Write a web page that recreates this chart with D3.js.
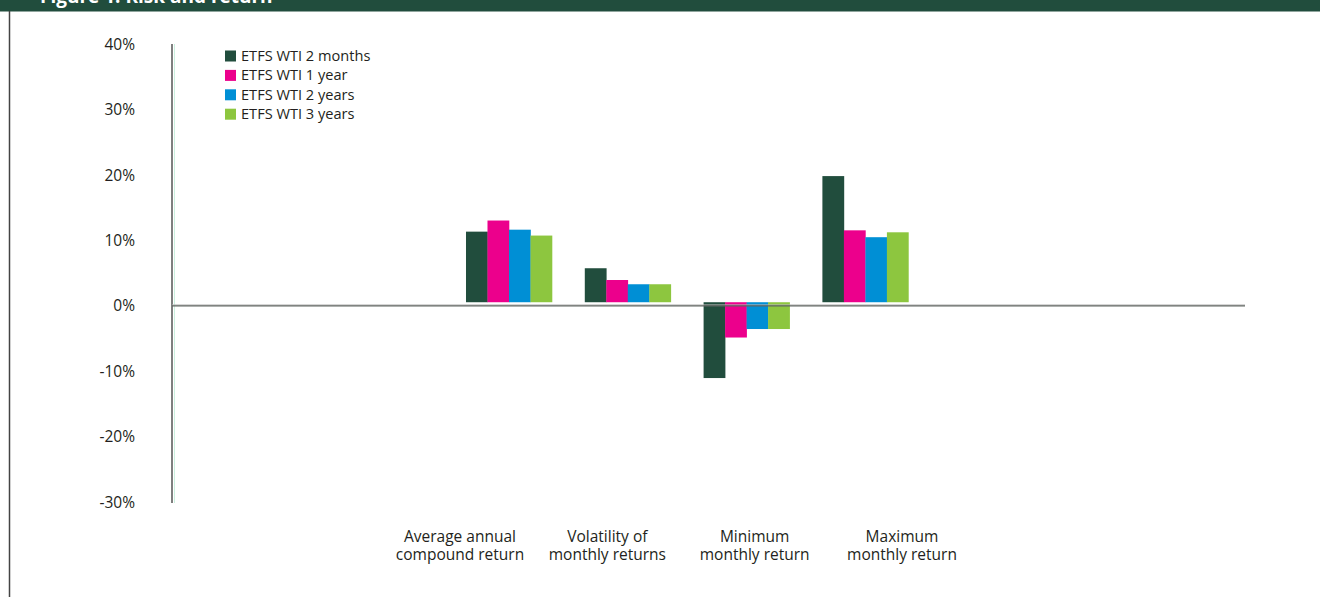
<!DOCTYPE html>
<html>
<head>
<meta charset="utf-8">
<script src="https://cdn.jsdelivr.net/npm/d3@7"></script>
<style>
  body { margin: 0; background: #fff; }
  svg text { font-family: "Open Sans", "Noto Sans", sans-serif; fill: #231f20; }
</style>
</head>
<body>
<div class="first"></div>
<script>
// data (percent)
const categories = [
  "Average annual|compound return",
  "Volatility of|monthly returns",
  "Minimum|monthly return",
  "Maximum|monthly return"
];
const seriesNames = ["ETFS WTI 2 months", "ETFS WTI 1 year", "ETFS WTI 2 years", "ETFS WTI 3 years"];
const seriesColors = ["#214d3d", "#ec008c", "#008fd5", "#8dc63f"];
const twoMonths  = [10.8, 5.2, -11.6, 19.3];
const oneYear    = [12.5, 3.4, -5.4, 11.0];
const twoYears   = [11.1, 2.75, -4.1, 9.95];
const threeYears = [10.2, 2.75, -4.1, 10.7];
const yTicks = [-30, -20, -10, 0, 10, 20, 30, 40];

const values = [twoMonths, oneYear, twoYears, threeYears];
const rows = [];
categories.forEach((c, i) => {
    seriesNames.forEach((s, j) => {
        rows.push({cat: c, series: s, color: seriesColors[j], value: values[j][i]});
    });
});

const w = 1320, h = 597;
const svg = d3.select('.first')
              .append('svg')
              .attr('width', w)
              .attr('height', h);

// header band + frame
svg.append('rect')
   .attr('x', 0).attr('y', 0)
   .attr('width', w).attr('height', 11.5)
   .attr('fill', '#214d3d');
svg.append('text')
   .attr('x', 40).attr('y', 2.5)
   .attr('font-size', 19)
   .attr('font-weight', 'bold')
   .style('fill', '#fff')
   .text('Figure 1: Risk and return');
svg.append('line')
   .attr('x1', 9.5).attr('x2', 9.5)
   .attr('y1', 11).attr('y2', h)
   .attr('stroke', '#444').attr('stroke-width', 1.5);

// scales
const y = d3.scaleLinear().domain([-30, 40]).range([502, 44.5]);
const barShift = -3.7;   // bars sit a little above the drawn zero line
const x0 = d3.scaleBand()
             .domain(categories)
             .range([449.6, 924.8])
             .paddingInner(0.276)
             .paddingOuter(0.138);
const x1 = d3.scaleBand()
             .domain(seriesNames)
             .range([0, x0.bandwidth()]);
const xLabel = d3.scalePoint()
                 .domain(categories)
                 .range([460, 902]);

// y axis tick labels
svg.selectAll('.ytick')
   .data(yTicks)
   .enter()
   .append('text')
   .attr('class', 'ytick')
   .attr('x', 135)
   .attr('y', d => y(d) + 5.5)
   .attr('text-anchor', 'end')
   .attr('font-size', 15.5)
   .text(d => d + '%');

// bars
svg.selectAll('.bar')
   .data(rows)
   .enter()
   .append('rect')
   .attr('class', 'bar')
   .attr('x', d => x0(d.cat) + x1(d.series))
   .attr('width', x1.bandwidth() + 0.3)
   .attr('y', d => Math.min(y(d.value), y(0)) + barShift)
   .attr('height', d => Math.abs(y(d.value) - y(0)))
   .attr('fill', d => d.color);

// axis lines
svg.append('line')
   .attr('x1', 172).attr('x2', 172)
   .attr('y1', 44).attr('y2', 503)
   .attr('stroke', '#555').attr('stroke-width', 1.5);
svg.append('line')
   .attr('x1', 174.5).attr('x2', 174.5)
   .attr('y1', 44).attr('y2', 503)
   .attr('stroke', '#b5ead0').attr('stroke-width', 0.7);
svg.append('line')
   .attr('x1', 172).attr('x2', 1245)
   .attr('y1', y(0) - 1).attr('y2', y(0) - 1)
   .attr('stroke', '#b8b8b8').attr('stroke-width', 1);
svg.append('line')
   .attr('x1', 172).attr('x2', 1245)
   .attr('y1', y(0)).attr('y2', y(0))
   .attr('stroke', '#5f6461').attr('stroke-width', 1.2);

// category labels (two lines each)
const lab = svg.selectAll('.xlab')
   .data(categories)
   .enter()
   .append('text')
   .attr('class', 'xlab')
   .attr('text-anchor', 'middle')
   .attr('font-size', 15.5)
   .attr('x', d => xLabel(d))
   .attr('y', 542);
lab.each(function(d) {
    const parts = d.split('|');
    d3.select(this).selectAll('tspan')
      .data(parts)
      .enter()
      .append('tspan')
      .attr('x', xLabel(d))
      .attr('dy', (p, i) => i === 0 ? 0 : 18)
      .text(p => p);
});

// legend
const leg = svg.selectAll('.legend')
   .data(seriesNames)
   .enter()
   .append('g')
   .attr('class', 'legend')
   .attr('transform', (d, i) => 'translate(225,' + (50.5 + i * 19.4) + ')');
leg.append('rect')
   .attr('width', 11).attr('height', 11)
   .attr('fill', (d, i) => seriesColors[i]);
leg.append('text')
   .attr('x', 16).attr('y', 10.5)
   .attr('font-size', 14.6)
   .text(d => d);
</script>
</body>
</html>
